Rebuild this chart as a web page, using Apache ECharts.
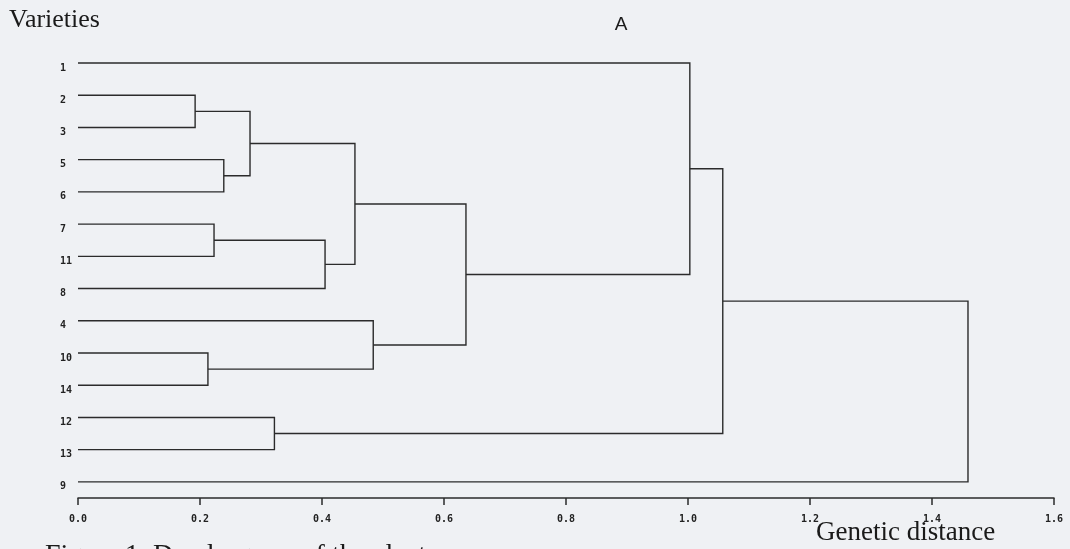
<!DOCTYPE html>
<html>
<head>
<meta charset="utf-8">
<script src="https://cdn.jsdelivr.net/npm/echarts@6/dist/echarts.min.js"></script>
<style>
  html, body { margin: 0; padding: 0; background: #eff1f4; }
  #chart { width: 1070px; height: 549px; }
</style>
</head>
<body>
<div id="chart"></div>
<script>
// varieties, top to bottom
const leaves = ['1', '2', '3', '5', '6', '7', '11', '8', '4', '10', '14', '12', '13', '9']

// merge i joins mergeA[i] and mergeB[i] (a variety, or an earlier merge 'mN') at mergeDist[i]
const mergeA = ['2', '5', 'm0', '7', 'm3', 'm2', '10', '4', 'm5', '12', '1', 'm10', 'm11']
const mergeB = ['3', '6', 'm1', '11', '8', 'm4', '14', 'm6', 'm7', '13', 'm8', 'm9', '9']
const mergeDist = [0.192, 0.239, 0.282, 0.223, 0.405, 0.454, 0.213, 0.484, 0.636, 0.322, 1.003, 1.057, 1.459]

const distTicks = [0, 0.2, 0.4, 0.6, 0.8, 1.0, 1.2, 1.4, 1.6]

const ink = '#2b2b2b'
const serif = '"Liberation Serif", "DejaVu Serif", serif'

// position of every node: [distance, row]
const pos = {}
leaves.forEach((name, i) => { pos[name] = [0, i] })
const links = mergeA.map((a, i) => {
  const b = mergeB[i]
  const h = mergeDist[i]
  const pa = pos[a], pb = pos[b]
  pos['m' + i] = [h, (pa[1] + pb[1]) / 2]
  return [pa[0], pa[1], pb[0], pb[1], h]
})

const chart = echarts.init(document.getElementById('chart'))
chart.setOption({
  backgroundColor: '#eff1f4',
  animation: false,
  grid: { left: 78, right: 16, top: 63, bottom: 51 },
  xAxis: {
    type: 'value',
    min: distTicks[0],
    max: distTicks[distTicks.length - 1],
    interval: 0.2,
    axisLine: { onZero: false, lineStyle: { color: ink, width: 1.5 } },
    axisTick: { length: 7, lineStyle: { color: ink, width: 1.5 } },
    splitLine: { show: false },
    axisLabel: {
      margin: 16,
      color: '#222',
      fontFamily: '"DejaVu Sans Mono", monospace',
      fontWeight: 'bold',
      fontSize: 10,
      formatter: (v) => v.toFixed(1),
    },
  },
  yAxis: {
    type: 'value',
    inverse: true,
    min: 0,
    max: 13.5,
    interval: 1,
    axisLine: { show: false },
    axisTick: { show: false },
    splitLine: { show: false },
    axisLabel: {
      align: 'left',
      verticalAlign: 'top',
      margin: 18,
      color: '#222',
      fontFamily: '"DejaVu Sans Mono", monospace',
      fontWeight: 'bold',
      fontSize: 10,
      formatter: (v) => leaves[v] ?? '',
    },
  },
  series: [{
    type: 'custom',
    silent: true,
    clip: false,
    encode: { x: [0, 2, 4], y: [1, 3] },
    data: links,
    renderItem: (params, api) => {
      const xa = api.value(0), ya = api.value(1)
      const xb = api.value(2), yb = api.value(3)
      const h = api.value(4)
      return {
        type: 'polyline',
        shape: {
          points: [
            api.coord([xa, ya]), api.coord([h, ya]),
            api.coord([h, yb]), api.coord([xb, yb]),
          ],
        },
        style: { stroke: ink, lineWidth: 1.4, fill: null },
      }
    },
  }],
  graphic: [
    {
      type: 'text', x: 9, y: 20,
      style: { text: 'Varieties', fontFamily: serif, fontSize: 26, fill: '#1a1a1a', align: 'left', verticalAlign: 'middle' },
    },
    {
      type: 'text', x: 621, y: 24.5,
      style: { text: 'A', fontFamily: '"Liberation Sans", sans-serif', fontSize: 19, fill: '#1a1a1a', align: 'center', verticalAlign: 'middle' },
    },
    {
      type: 'text', x: 816, y: 533,
      style: { text: 'Genetic distance', fontFamily: serif, fontSize: 27, fill: '#1a1a1a', align: 'left', verticalAlign: 'middle' },
    },
    {
      type: 'text', x: 45, y: 556,
      style: { text: 'Figure 1. Dendrogram of the clusters', fontFamily: serif, fontSize: 28, fill: '#1a1a1a', align: 'left', verticalAlign: 'middle' },
    },
  ],
})
window.addEventListener('resize', () => chart.resize())
</script>
</body>
</html>
